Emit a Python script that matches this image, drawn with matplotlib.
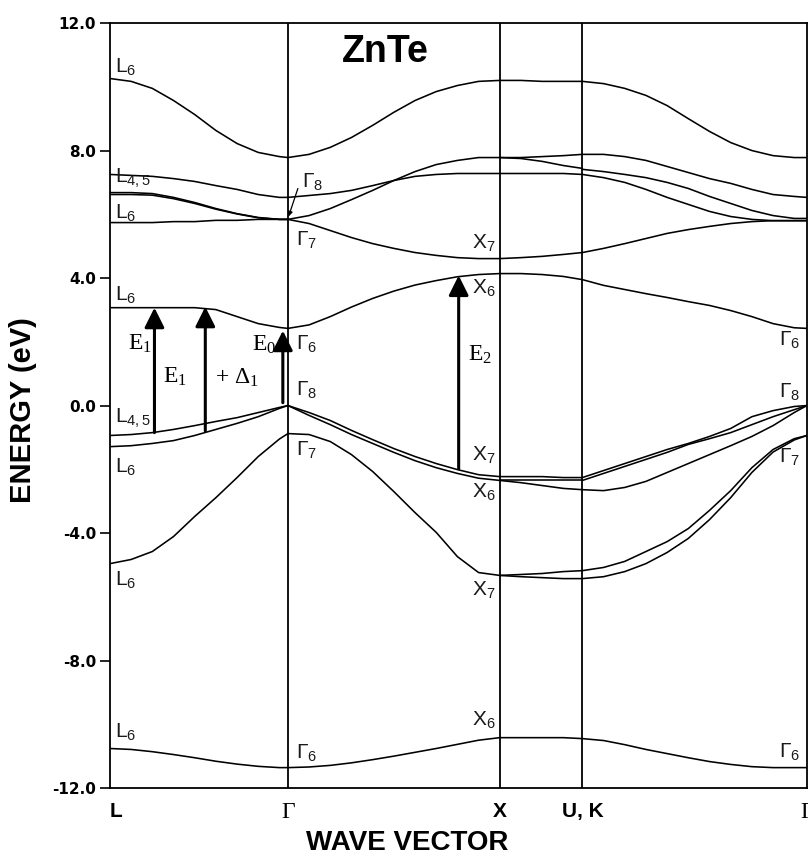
import matplotlib
matplotlib.use('Agg')
import matplotlib.pyplot as plt

# path L - Gamma - X - U,K - Gamma (k in units of the drawn path)
kpts = [0.0, 0.84, 1.84, 2.23, 3.29]
klabels = ['L', 'Γ', 'X', 'U, K', 'Γ']

# sample points for each section of the path
k_LG = [0.0, 0.1, 0.2, 0.3, 0.4, 0.5, 0.6, 0.7, 0.8, 0.84]
k_GX = [0.84, 0.94, 1.04, 1.14, 1.24, 1.34, 1.44, 1.54, 1.64, 1.74, 1.84]
k_XK = [1.84, 1.94, 2.04, 2.14, 2.23]
k_KG = [2.23, 2.33, 2.43, 2.53, 2.63, 2.73, 2.83, 2.93, 3.03, 3.13, 3.23, 3.29]

# energies (eV), one list per band
bands_LG = [
    [10.26, 10.17, 9.95, 9.57, 9.13, 8.63, 8.22, 7.94, 7.81, 7.78],
    [7.25, 7.22, 7.19, 7.12, 7.03, 6.90, 6.78, 6.62, 6.53, 6.53],
    [6.68, 6.68, 6.65, 6.53, 6.37, 6.18, 6.02, 5.90, 5.84, 5.84],
    [6.62, 6.62, 6.60, 6.49, 6.34, 6.16, 6.01, 5.89, 5.84, 5.84],
    [5.74, 5.74, 5.74, 5.77, 5.77, 5.81, 5.81, 5.84, 5.84, 5.84],
    [3.07, 3.07, 3.07, 3.07, 3.07, 3.01, 2.79, 2.57, 2.45, 2.42],
    [-0.94, -0.91, -0.85, -0.75, -0.63, -0.50, -0.38, -0.22, -0.06, 0.0],
    [-1.29, -1.26, -1.19, -1.10, -0.94, -0.75, -0.56, -0.35, -0.09, 0.0],
    [-4.96, -4.83, -4.58, -4.11, -3.48, -2.89, -2.26, -1.60, -1.05, -0.88],
    [-10.76, -10.79, -10.86, -10.95, -11.05, -11.16, -11.25, -11.32, -11.36, -11.36],
]
bands_GX = [
    [7.78, 7.88, 8.10, 8.41, 8.79, 9.20, 9.57, 9.85, 10.04, 10.17, 10.20],
    [6.53, 6.59, 6.65, 6.75, 6.90, 7.06, 7.19, 7.25, 7.28, 7.28, 7.28],
    [5.84, 5.96, 6.18, 6.46, 6.75, 7.06, 7.34, 7.56, 7.69, 7.78, 7.78],
    [5.84, 5.71, 5.49, 5.27, 5.08, 4.93, 4.80, 4.71, 4.64, 4.61, 4.61],
    [2.42, 2.53, 2.79, 3.09, 3.36, 3.59, 3.78, 3.92, 4.04, 4.11, 4.14],
    [0.0, -0.22, -0.47, -0.78, -1.07, -1.35, -1.60, -1.82, -2.01, -2.17, -2.23],
    [0.0, -0.31, -0.60, -0.91, -1.19, -1.47, -1.73, -1.95, -2.13, -2.28, -2.35],
    [-0.88, -0.91, -1.13, -1.54, -2.07, -2.70, -3.36, -3.98, -4.74, -5.24, -5.33],
    [-11.36, -11.34, -11.29, -11.21, -11.11, -11.00, -10.88, -10.76, -10.63, -10.50, -10.42],
]
bands_XK = [
    [10.20, 10.20, 10.17, 10.17, 10.17],
    [7.78, 7.78, 7.81, 7.84, 7.88],
    [7.78, 7.75, 7.66, 7.53, 7.44],
    [7.28, 7.28, 7.28, 7.28, 7.25],
    [4.61, 4.64, 4.68, 4.74, 4.80],
    [4.14, 4.14, 4.11, 4.05, 3.95],
    [-2.23, -2.23, -2.23, -2.26, -2.26],
    [-2.35, -2.35, -2.35, -2.35, -2.35],
    [-2.35, -2.42, -2.51, -2.60, -2.64],
    [-5.33, -5.30, -5.27, -5.21, -5.18],
    [-5.33, -5.37, -5.40, -5.43, -5.43],
    [-10.42, -10.42, -10.42, -10.42, -10.45],
]
bands_KG = [
    [10.17, 10.10, 9.95, 9.73, 9.41, 9.00, 8.60, 8.25, 8.00, 7.84, 7.78, 7.78],
    [7.88, 7.88, 7.81, 7.69, 7.50, 7.31, 7.12, 6.97, 6.78, 6.62, 6.56, 6.53],
    [7.41, 7.34, 7.25, 7.15, 7.00, 6.81, 6.56, 6.34, 6.12, 5.96, 5.87, 5.87],
    [7.25, 7.15, 7.00, 6.78, 6.53, 6.31, 6.09, 5.93, 5.84, 5.80, 5.80, 5.80],
    [4.80, 4.93, 5.08, 5.24, 5.40, 5.52, 5.62, 5.71, 5.77, 5.80, 5.80, 5.80],
    [3.95, 3.77, 3.64, 3.51, 3.39, 3.26, 3.14, 2.98, 2.79, 2.57, 2.44, 2.42],
    [-2.26, -2.04, -1.82, -1.60, -1.38, -1.19, -0.97, -0.72, -0.35, -0.16, -0.03, 0.0],
    [-2.35, -2.13, -1.91, -1.69, -1.47, -1.22, -1.04, -0.85, -0.60, -0.35, -0.13, 0.0],
    [-2.64, -2.67, -2.57, -2.38, -2.10, -1.82, -1.54, -1.26, -0.97, -0.63, -0.22, 0.0],
    [-5.18, -5.08, -4.89, -4.58, -4.27, -3.86, -3.29, -2.67, -1.95, -1.38, -1.04, -0.94],
    [-5.43, -5.37, -5.21, -4.96, -4.61, -4.17, -3.58, -2.89, -2.10, -1.46, -1.08, -0.94],
    [-10.45, -10.51, -10.64, -10.79, -10.92, -11.05, -11.17, -11.26, -11.33, -11.36, -11.36, -11.36],
]

# symmetry labels: (text, k, energy of baseline)
sym_labels = [
    ('L_6', 0.025, 10.45), ('L_{4,5}', 0.025, 7.0), ('L_6', 0.025, 5.87),
    ('L_6', 0.025, 3.29), ('L_{4,5}', 0.025, -0.53), ('L_6', 0.025, -2.1),
    ('L_6', 0.025, -5.65), ('L_6', 0.025, -10.42),
    ('Γ_8', 0.905, 6.84), ('Γ_7', 0.88, 5.02), ('Γ_6', 0.88, 1.76),
    ('Γ_8', 0.88, 0.31), ('Γ_7', 0.88, -1.57), ('Γ_6', 0.88, -11.08),
    ('X_7', 1.71, 4.93), ('X_6', 1.71, 3.51), ('X_7', 1.71, -1.73),
    ('X_6', 1.71, -2.89), ('X_7', 1.71, -5.96), ('X_6', 1.71, -10.04),
    ('Γ_6', 3.16, 1.88), ('Γ_8', 3.16, 0.25), ('Γ_7', 3.16, -1.79),
    ('Γ_6', 3.16, -11.04),
]

# optical transitions: (k, from, to) and their names
transitions = [(0.21, -0.85, 3.07), (0.45, -0.80, 3.10),
               (0.816, 0.09, 2.35), (1.646, -1.98, 4.08)]
trans_text = [('E', '1', 0.085, 1.95), ('E', '1', 0.25, 0.91),
              ('+ Δ', '1', 0.495, 0.88), ('E', '0', 0.67, 1.91),
              ('E', '2', 1.69, 1.60)]

yticks = [12, 8, 4, 0, -4, -8, -12]

fig = plt.figure(figsize=(8.08, 8.6), dpi=100)
ax = fig.add_axes([0.1361, 0.0837, 0.8626, 0.8895])

for k, bands in [(k_LG, bands_LG), (k_GX, bands_GX), (k_XK, bands_XK), (k_KG, bands_KG)]:
    for e in bands:
        ax.plot(k, e, color='black', lw=1.15, solid_capstyle='round', solid_joinstyle='round')

for kp in kpts[1:4]:
    ax.axvline(kp, color='black', lw=1.3)

for k, e0, e1 in transitions:
    ax.annotate('', xy=(k, e1), xytext=(k, e0),
                arrowprops=dict(arrowstyle='-|>', lw=2.2, color='black',
                                mutation_scale=30, shrinkA=0, shrinkB=0))
for main, sub, k, e in trans_text:
    ax.text(k, e, main + r'$\mathregular{_' + sub + '}$', ha='left', va='center',
            fontsize=17, family='Liberation Serif')

for txt, k, e in sym_labels:
    ax.text(k, e, r'$\mathregular{' + txt + '}$', ha='left', va='baseline',
            fontsize=15, family='Liberation Sans', color='#1a1a1a')
# little pointer from the upper Gamma_8 label
ax.annotate('', xy=(0.843, 5.93), xytext=(0.887, 6.81),
            arrowprops=dict(arrowstyle='-|>', lw=0.9, color='black',
                            mutation_scale=7, shrinkA=0, shrinkB=0))

ax.text(1.30, 11.08, 'ZnTe', ha='center', va='center', fontsize=27,
        fontweight='bold', family='Liberation Sans')

ax.set_xlim(kpts[0], kpts[-1])
ax.set_ylim(-12, 12)
ax.set_yticks(yticks)
ax.set_yticklabels(['%.1f' % v for v in yticks])
ax.set_xticks(kpts)
ax.set_xticklabels(klabels)
ax.tick_params(axis='y', direction='out', length=7, width=1.2, pad=3)
ax.tick_params(axis='x', length=0, pad=10)
for lab in ax.get_yticklabels():
    lab.set_fontfamily('DejaVu Sans')
    lab.set_fontweight('bold')
    lab.set_fontsize(11)
for lab in ax.get_xticklabels():
    if lab.get_text() == 'Γ':
        lab.set_fontfamily('Liberation Serif')
        lab.set_fontsize(17)
    else:
        lab.set_fontfamily('Liberation Sans')
        lab.set_fontweight('bold')
        lab.set_fontsize(15)
ax.get_xticklabels()[0].set_horizontalalignment('left')
for sp in ax.spines.values():
    sp.set_linewidth(1.3)

ax.set_xlabel('WAVE VECTOR', fontsize=20, fontweight='bold', family='Liberation Sans')
ax.xaxis.set_label_coords(0.426, -0.055)
ax.set_ylabel('ENERGY (eV)', fontsize=21, fontweight='bold', family='Liberation Sans')
ax.yaxis.set_label_coords(-0.104, 0.494)

fig.savefig('out.png', dpi=100, facecolor='white')
